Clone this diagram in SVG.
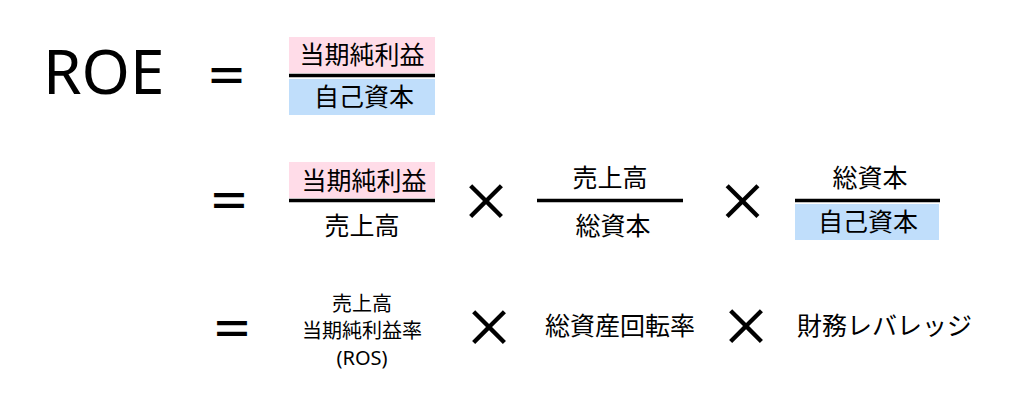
<svg xmlns="http://www.w3.org/2000/svg" width="1024" height="416" viewBox="0 0 1024 416">
<style>
  text { font-family: "Noto Sans", "Noto Sans CJK JP", sans-serif; fill: #000; }
  .m { text-anchor: middle; }
  .t25 { font-size: 25px; font-weight: 400; }
  .t20 { font-size: 20px; font-weight: 400; }
  .eq { font-family: "Noto Sans CJK JP", sans-serif; font-size: 42px; font-weight: 700; text-anchor: middle; }
  .x { font-family: "Noto Sans CJK JP", sans-serif; font-size: 52px; font-weight: 500; text-anchor: middle; }
  .bar { stroke: #000; stroke-width: 3.5; }
  .pink { fill: #FFDCE8; }
  .blue { fill: #C0DEFB; }
</style>
<rect width="1024" height="416" fill="#fff"/>

<g id="roe">
  <text x="43" y="94" style="font-size:62px">ROE</text>
</g>

<g id="eq1"><text class="eq" x="226.5" y="91.5">＝</text></g>
<g id="frac-roe">
  <rect class="pink" x="289" y="37" width="146" height="36"/>
  <rect class="blue" x="289" y="79" width="146" height="36"/>
  <line class="bar" x1="289" y1="75.5" x2="435" y2="75.5"/>
  <text class="m t25" x="362" y="64">当期純利益</text>
  <text class="m t25" x="364" y="106">自己資本</text>
</g>

<g id="eq2"><text class="eq" x="229" y="216.5">＝</text></g>
<g id="frac-ros">
  <rect class="pink" x="289" y="162" width="146" height="36"/>
  <line class="bar" x1="289" y1="200.5" x2="435" y2="200.5"/>
  <text class="m t25" x="364" y="190">当期純利益</text>
  <text class="m t25" x="362" y="235">売上高</text>
</g>
<g id="times1"><text class="x" x="486" y="220.5">×</text></g>
<g id="frac-turnover">
  <line class="bar" x1="537" y1="200.5" x2="683" y2="200.5"/>
  <text class="m t25" x="610" y="187">売上高</text>
  <text class="m t25" x="613" y="235">総資本</text>
</g>
<g id="times2"><text class="x" x="742.5" y="220.5">×</text></g>
<g id="frac-leverage">
  <rect class="blue" x="795" y="204" width="144" height="36"/>
  <line class="bar" x1="795" y1="200.5" x2="940" y2="200.5"/>
  <text class="m t25" x="870" y="187">総資本</text>
  <text class="m t25" x="868" y="231">自己資本</text>
</g>

<g id="eq3"><text class="eq" x="232" y="344.5">＝</text></g>
<g id="ros-label">
  <text class="m t20" x="362" y="311">売上高</text>
  <text class="m t20" x="362" y="338">当期純利益率</text>
  <text class="m t20" x="362" y="365">(ROS)</text>
</g>
<g id="times3"><text class="x" x="489" y="347">×</text></g>
<g id="turnover-label"><text class="m t25" x="620" y="335">総資産回転率</text></g>
<g id="times4"><text class="x" x="746" y="345.5">×</text></g>
<g id="leverage-label"><text class="t25" x="797" y="335">財務レバレッジ</text></g>
</svg>
